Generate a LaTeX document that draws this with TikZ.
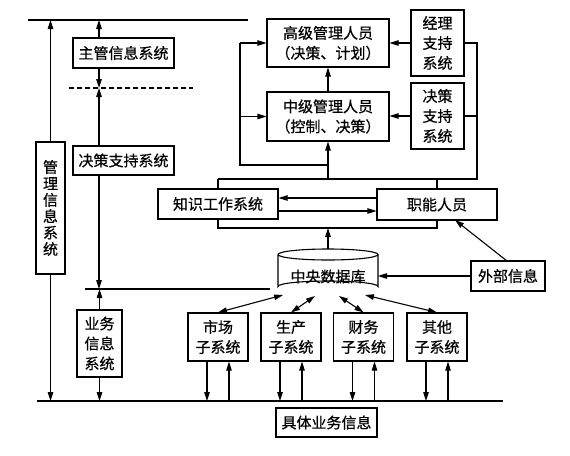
\documentclass[tikz,border=0pt]{standalone}
\usepackage{fontspec}
\newfontfamily\cjk[FakeBold=0.6]{Noto Sans CJK SC}
\usetikzlibrary{arrows.meta,calc}
\begin{document}
\begin{tikzpicture}[x=1pt,y=-1pt,
  lw/.style={line width=1.1pt},
  box/.style={draw,lw,inner sep=0pt,align=center,font=\cjk\fontsize{15}{19}\selectfont},
  arr/.style={lw,-{Triangle[length=9pt,width=5.5pt]}},
  darr/.style={lw,{Triangle[length=9pt,width=5.5pt]}-{Triangle[length=9pt,width=5.5pt]}},
  ln/.style={lw}
]
\useasboundingbox (0,0) rectangle (570,455);
% horizontal levels
\coordinate (tl) at (28,20);   \coordinate (tr) at (248,20);
\coordinate (dl) at (69,88);   \coordinate (dr) at (193,88);
\coordinate (ml) at (85,289);  \coordinate (mr) at (270,289);
\coordinate (bl) at (37,401);  \coordinate (br) at (503,401);
\draw[ln] (tl) -- (tr);
\draw[ln,dash pattern=on 4.5pt off 3.5pt] (dl) -- (dr);
\draw[ln] (ml) -- (mr);
\draw[ln] (bl) -- (br);

% left column
\node[box,minimum width=29,minimum height=132,font=\cjk\fontsize{15}{16.4}\selectfont] (gl) at (50.5,208) {管\\理\\信\\息\\系\\统};
\node[box,minimum width=101,minimum height=30] (zg) at (123.5,53) {主管信息系统};
\node[box,minimum width=101,minimum height=29] (jc) at (123.5,160.5) {决策支持系统};
\node[box,minimum width=45,minimum height=67,font=\cjk\fontsize{15}{20}\selectfont] (yw) at (99.5,343.5) {业务\\信息\\系统};
\coordinate (cx) at (99,0);

\draw[arr] (gl.north) -- (gl.north |- tl);
\draw[arr] (gl.south) -- (gl.south |- bl);
\draw[arr] (cx |- zg.north) -- (cx |- tl);
\draw[arr] (cx |- zg.south) -- (cx |- dl);
\draw[arr] (cx |- jc.north) -- (cx |- dl);
\draw[arr] (cx |- jc.south) -- (cx |- ml);
\draw[arr] (yw.north) -- (yw.north |- ml);
\draw[arr] (yw.south) -- (yw.south |- bl);

% management boxes
\node[box,minimum width=122,minimum height=48,font=\cjk\fontsize{15}{20}\selectfont] (gj) at (328,43) {高级管理人员\\（决策、计划）};
\node[box,minimum width=122,minimum height=49,font=\cjk\fontsize{15}{20}\selectfont] (zj) at (328,116.5) {中级管理人员\\（控制、决策）};
\node[box,minimum width=53,minimum height=66,font=\cjk\fontsize{15}{20}\selectfont] (jl) at (437.5,43) {经理\\支持\\系统};
\node[box,minimum width=53,minimum height=66,font=\cjk\fontsize{15}{20}\selectfont] (jcr) at (437.5,116) {决策\\支持\\系统};

\node[box,minimum width=120,minimum height=30] (zs) at (218,204) {知识工作系统};
\node[box,minimum width=120,minimum height=31] (zn) at (437,204.5) {职能人员};

\draw[arr] (zj.north) -- (gj.south);
\draw[arr] (jl.west) -- (jl.west -| gj.east);
\draw[arr] (jcr.west) -- (jcr.west -| zj.east);

% right loop
\coordinate (rx) at (477,179);
\coordinate (hl) at (218,179);
\draw[ln] (jl.east) -- (jl.east -| rx) -- (rx) -- (hl);
\draw[ln] (jcr.east) -- (jcr.east -| rx);
\draw[arr] (zj.south |- rx) -- (zj.south);
\draw[ln] (hl) -- (zs.north);
\draw[ln] (zn.north |- rx) -- (zn.north);

% left loop
\coordinate (lx) at (240,165);
\draw[ln] (lx |- gj.west) -- (lx) -- (lx -| zj.south);
\draw[arr] (lx |- gj.west) -- (gj.west);
\draw[arr] (lx |- zj.west) -- (zj.west);

% between knowledge and staff
\draw[arr] (zn.west |- 0,198) -- (zs.east |- 0,198);
\draw[arr] (zs.east |- 0,211) -- (zn.west |- 0,211);
\coordinate (bb) at (328,228);
\draw[ln] (zs.south) -- (zs.south |- bb) -- (zn.south |- bb) -- (zn.south);

% database
\node[minimum width=100,minimum height=43,inner sep=0pt] (db) at (328,270.5) {};
\node[inner sep=0pt,font=\cjk\fontsize{15}{19}\selectfont] (dbt) at (328,276.5) {中央数据库};
\draw[lw] (278,254.5) arc[start angle=180,end angle=360,x radius=50,y radius=-5.5]
          arc[start angle=0,end angle=180,x radius=50,y radius=-5.5];
\draw[lw] (278,254.5) -- (278,286.5) arc[start angle=180,end angle=360,x radius=50,y radius=5.5] -- (378,254.5);
\draw[arr] (db.north |- 0,249) -- (bb);

\node[box,minimum width=74,minimum height=30] (wb) at (508,276) {外部信息};
\draw[arr] (wb.west) -- (378,276);
\coordinate (wbt) at (507,261);
\coordinate (znb) at (455,220);
\draw[arr] (wbt) -- (znb);

% subsystems
\foreach \n/\x/\t in {sc/218/市场, sp/291/生产, cw/363.5/财务, qt/437/其他}{
  \node[box,minimum width=60,minimum height=48,font=\cjk\fontsize{15}{20}\selectfont] (\n) at (\x,337) {\t\\子系统};
  \draw[arr] ($(\n.south)+(-11,0)$) -- ($(\n.south |- bl)+(-11,0)$);
  \draw[arr] ($(\n.south |- bl)+(11,0)$) -- ($(\n.south)+(11,0)$);
}
\coordinate (d1) at (283,295);
\coordinate (d2) at (315,296);
\coordinate (d3) at (339,296);
\coordinate (d4) at (365,295);
\draw[darr] (d1) -- (sc.north);
\draw[darr] (d2) -- (sp.north);
\draw[darr] (d3) -- (cw.north);
\draw[darr] (d4) -- (qt.north);

\node[box,minimum width=101,minimum height=29] (jt) at (326.5,422.5) {具体业务信息};
\end{tikzpicture}
\end{document}
